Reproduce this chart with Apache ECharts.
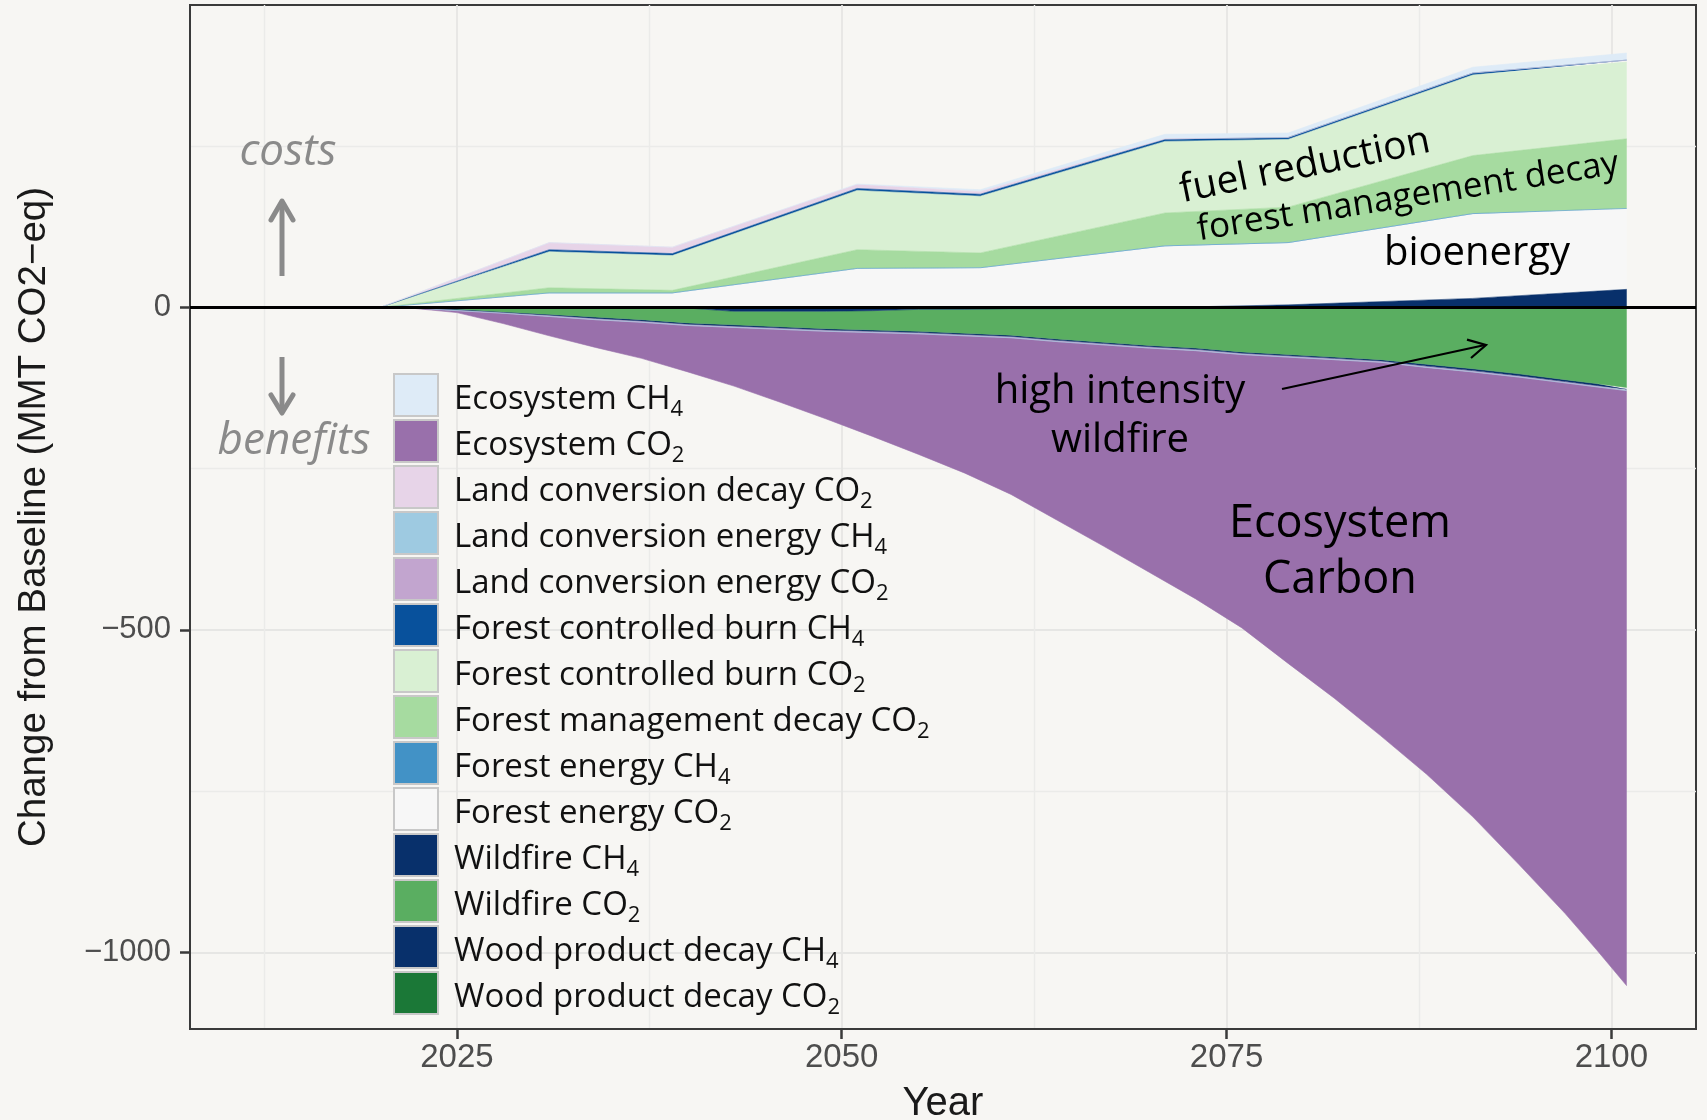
<!DOCTYPE html>
<html>
<head>
<meta charset="utf-8">
<title>Change from Baseline</title>
<script src="https://cdn.jsdelivr.net/npm/echarts@6/dist/echarts.min.js"></script>
<style>
  html, body { margin: 0; padding: 0; background: #f7f6f3; }
  #chart { width: 1707px; height: 1120px; }
</style>
</head>
<body>
<div id="chart"></div>
<script>
// ---- axes ----
const xTicks = [2025, 2050, 2075, 2100];
const xMinor = [2012.5, 2037.5, 2062.5, 2087.5];
const yTicks = [-1000, -500, 0];
const yMinor = [-750, -250, 250];

// ---- legend order ----
const legendNames = [
  'Ecosystem CH4', 'Ecosystem CO2', 'Land conversion decay CO2',
  'Land conversion energy CH4', 'Land conversion energy CO2',
  'Forest controlled burn CH4', 'Forest controlled burn CO2',
  'Forest management decay CO2', 'Forest energy CH4', 'Forest energy CO2',
  'Wildfire CH4', 'Wildfire CO2', 'Wood product decay CH4', 'Wood product decay CO2'
];

// ---- costs (positive components, MMT CO2-eq) ----
const posYears = [2020, 2031, 2039, 2051, 2059, 2071, 2079, 2091, 2101];
const woodDecayCH4Pos    = [0, 0, 0, 0, 0, 0, 4, 14, 28];
const forestEnergyCO2    = [0, 22, 22, 60, 61, 95, 96, 131, 125];
const forestEnergyCH4    = [0, 0.5, 0.5, 0.5, 0.5, 0.5, 0.5, 0.5, 0.5];
const forestMgmtDecayCO2 = [0, 8, 4, 29, 23, 51, 55, 90, 108];
const controlledBurnCO2  = [0, 56, 54, 92, 88, 111, 105, 125, 119];
const controlledBurnCH4  = [0, 3, 3, 3, 3, 3, 3, 3, 3];
const landDecayCO2       = [0, 11, 10, 6, 4, 1, 0, 0, 0];
const ecosystemCH4       = [0, 0, 0, 1, 3, 7, 7, 9, 11];

// ---- benefits (negative components, MMT CO2-eq) ----
const negYears = [2020, 2022, 2025, 2028, 2031, 2034, 2037, 2040, 2043, 2046, 2049, 2052, 2055, 2058,
                  2061, 2064, 2067, 2070, 2073, 2076, 2079, 2082, 2085, 2088, 2091, 2094, 2097, 2099, 2101];
const woodDecayCO2    = [0, 0, 0, 0, 0, 0, 0, 0, 0, 0, 0, 0, 0, 0, 0, 0, 0, 0, 0, 0, 0, 0, 0, 0, 0, 0, 0, 0, 0];
const woodDecayCH4Neg = [0, 0, 0, 0, 0, 0, 0, -1, -6, -6, -6, -5, -3, -3, -2, -2, -1, 0, 0, 0, 0, 0, 0, 0, 0, 0, 0, 0, 0];
const wildfireCO2     = [0, -1, -3, -7, -11, -15, -19, -23, -21, -24, -27, -30, -34, -37, -41, -47, -53, -59,
                         -63, -69, -73, -77, -81, -88, -95, -103, -112, -118, -124];
const wildfireCH4     = [0, 0, -1, -1, -1, -2, -2, -2, -2, -2, -2, -2, -2, -2, -2, -2, -2, -2, -2, -2, -2, -2, -2,
                         -3, -3, -3, -3, -3, -3];
const landEnergyCO2   = [0, 0, -1, -1, -2, -2, -2, -2, -2, -2, -2, -2, -2, -2, -2, -2, -2, -2, -2, -2, -2, -2, -2,
                         -2, -2, -2, -2, -2, -2];
const landEnergyCH4   = [0, 0, 0, 0, 0, 0, 0, 0, 0, 0, 0, 0, 0, 0, 0, 0, 0, 0, 0, 0, 0, 0, 0, 0, 0, 0, 0, 0, 0];
const ecosystemCO2    = [0, 0, -3, -16, -30, -43, -56, -72, -91, -113, -136, -161, -187, -213, -243, -277, -312,
                         -348, -385, -424, -475, -525, -579, -631, -690, -756, -823, -872, -923];

// ---- palette ----
const colors = {
  'Ecosystem CH4': '#deebf7',
  'Ecosystem CO2': '#9970ab',
  'Land conversion decay CO2': '#e7d4e8',
  'Land conversion energy CH4': '#9ecae1',
  'Land conversion energy CO2': '#c2a5cf',
  'Forest controlled burn CH4': '#08519c',
  'Forest controlled burn CO2': '#d9f0d3',
  'Forest management decay CO2': '#a6dba0',
  'Forest energy CH4': '#4292c6',
  'Forest energy CO2': '#f7f7f7',
  'Wildfire CH4': '#08306b',
  'Wildfire CO2': '#5aae61',
  'Wood product decay CH4': '#08306b',
  'Wood product decay CO2': '#1b7837'
};

const UI_FONT = '"Open Sans", "Noto Sans", sans-serif';
const AXIS_FONT = '"Liberation Sans", Arial, sans-serif';

// value first, year second: the stacked dimension is the first numeric one
function area(name, stack, years, values) {
  const c = colors[name];
  return {
    name: name,
    type: 'line',
    stack: stack,
    stackStrategy: 'samesign',
    xAxisIndex: 0,
    yAxisIndex: 0,
    data: years.map((y, i) => [values[i], y]),
    encode: { x: 1, y: 0 },
    symbol: 'none',
    showSymbol: false,
    lineStyle: { width: 0.6, color: c },
    itemStyle: { color: c },
    areaStyle: { color: c, opacity: 1 },
    emphasis: { disabled: true },
    silent: true
  };
}

// stacks are built outward from zero: first series sits next to the axis
const series = [
  area('Wood product decay CH4', 'pos', posYears, woodDecayCH4Pos),
  area('Forest energy CO2', 'pos', posYears, forestEnergyCO2),
  area('Forest energy CH4', 'pos', posYears, forestEnergyCH4),
  area('Forest management decay CO2', 'pos', posYears, forestMgmtDecayCO2),
  area('Forest controlled burn CO2', 'pos', posYears, controlledBurnCO2),
  area('Forest controlled burn CH4', 'pos', posYears, controlledBurnCH4),
  area('Land conversion decay CO2', 'pos', posYears, landDecayCO2),
  area('Ecosystem CH4', 'pos', posYears, ecosystemCH4),

  area('Wood product decay CO2', 'neg', negYears, woodDecayCO2),
  area('Wood product decay CH4', 'neg', negYears, woodDecayCH4Neg),
  area('Wildfire CO2', 'neg', negYears, wildfireCO2),
  area('Wildfire CH4', 'neg', negYears, wildfireCH4),
  area('Land conversion energy CO2', 'neg', negYears, landEnergyCO2),
  area('Land conversion energy CH4', 'neg', negYears, landEnergyCH4),
  area('Ecosystem CO2', 'neg', negYears, ecosystemCO2),

  // zero reference line
  {
    type: 'line',
    xAxisIndex: 0,
    yAxisIndex: 0,
    data: [],
    z: 10,
    silent: true,
    markLine: {
      silent: true,
      symbol: ['none', 'none'],
      label: { show: false },
      lineStyle: { color: '#000000', width: 3.2, type: 'solid' },
      data: [{ yAxis: 0 }]
    }
  }
];

const minus = v => (v < 0 ? '\u2212' + Math.abs(v) : String(v));
const gridLine = { color: '#e6e6e4', width: 1.8 };
const xRange = { min: 2007.66, max: 2105.5 };
const yRange = { min: -1119, max: 469 };

const centered = { align: 'center', verticalAlign: 'middle', textAlign: 'center', textVerticalAlign: 'middle' };

const option = {
  backgroundColor: '#f7f6f3',
  animation: false,
  grid: {
    left: 190, right: 11, top: 5, bottom: 91,
    outerBoundsMode: 'none',
    containLabel: false,
    show: true, borderColor: '#3a3a3a', borderWidth: 2, backgroundColor: 'transparent'
  },
  xAxis: [
    {
      type: 'value', ...xRange, position: 'bottom',
      name: 'Year', nameLocation: 'middle', nameGap: 55,
      nameTextStyle: { fontFamily: AXIS_FONT, fontSize: 40, color: '#1a1a1a' },
      axisLine: { show: true, onZero: false, lineStyle: { color: '#3a3a3a', width: 2 } },
      axisTick: { show: true, length: 10, customValues: xTicks, lineStyle: { color: '#3a3a3a', width: 2.5 } },
      axisLabel: { customValues: xTicks, margin: 12, fontFamily: AXIS_FONT, fontSize: 33, color: '#4d4d4d',
                   formatter: v => String(v) },
      splitLine: { show: true, lineStyle: gridLine }
    },
    {
      type: 'value', ...xRange, position: 'top',
      axisLine: { show: false },
      axisTick: { show: false, customValues: xMinor },
      axisLabel: { show: false, customValues: xMinor },
      splitLine: { show: true, lineStyle: { color: '#ebebe9', width: 1.4 } }
    }
  ],
  yAxis: [
    {
      type: 'value', ...yRange, position: 'left',
      name: 'Change from Baseline (MMT CO2\u2212eq)', nameLocation: 'middle', nameGap: 136,
      nameTextStyle: { fontFamily: AXIS_FONT, fontSize: 38.5, color: '#1a1a1a' },
      axisLine: { show: true, onZero: false, lineStyle: { color: '#3a3a3a', width: 2 } },
      axisTick: { show: true, length: 10, customValues: yTicks, lineStyle: { color: '#3a3a3a', width: 2.5 } },
      axisLabel: { customValues: yTicks, margin: 19, fontFamily: AXIS_FONT, fontSize: 31, color: '#4d4d4d',
                   formatter: minus },
      splitLine: { show: true, lineStyle: gridLine }
    },
    {
      type: 'value', ...yRange, position: 'right',
      axisLine: { show: false },
      axisTick: { show: false, customValues: yMinor },
      axisLabel: { show: false, customValues: yMinor },
      splitLine: { show: true, lineStyle: { color: '#ebebe9', width: 1.4 } }
    }
  ],
  legend: {
    data: legendNames,
    orient: 'vertical',
    left: 393,
    top: 373,
    padding: 0,
    icon: 'rect',
    itemWidth: 44,
    itemHeight: 42,
    itemGap: -2,
    selectedMode: false,
    itemStyle: { borderColor: '#c8c8c8', borderWidth: 2 },
    formatter: name => {
      const m = name.match(/^(.*)(CH|CO)(\d)$/);
      return m ? '{t|' + m[1] + m[2] + '}{s|' + m[3] + '}' : '{t|' + name + '}';
    },
    textStyle: {
      padding: [0, 0, 0, 11],
      fontFamily: UI_FONT,
      fontSize: 33,
      color: '#111111',
      rich: {
        // main words sit slightly low in the row, the digit drops below as a subscript
        t: { fontFamily: UI_FONT, fontSize: 33, lineHeight: 40, height: 30, verticalAlign: 'bottom', color: '#111111' },
        s: { fontFamily: UI_FONT, fontSize: 22, lineHeight: 10, height: 10, verticalAlign: 'bottom', color: '#111111' }
      }
    }
  },
  graphic: [
    { type: 'text', x: 288, y: 152, z: 20, silent: true,
      style: Object.assign({ text: 'costs', fontFamily: UI_FONT, fontSize: 44, fontStyle: 'italic', fill: '#8a8a8a' }, centered) },
    { type: 'line', z: 20, silent: true, shape: { x1: 282, y1: 276, x2: 282, y2: 203 },
      style: { stroke: '#8a8a8a', lineWidth: 5 } },
    { type: 'polyline', z: 20, silent: true, shape: { points: [[271, 220], [282, 201], [293, 220]] },
      style: { stroke: '#8a8a8a', lineWidth: 5, fill: null, lineCap: 'round', lineJoin: 'round' } },
    { type: 'line', z: 20, silent: true, shape: { x1: 282, y1: 357, x2: 282, y2: 411 },
      style: { stroke: '#8a8a8a', lineWidth: 5 } },
    { type: 'polyline', z: 20, silent: true, shape: { points: [[271, 395], [282, 413], [293, 395]] },
      style: { stroke: '#8a8a8a', lineWidth: 5, fill: null, lineCap: 'round', lineJoin: 'round' } },
    { type: 'text', x: 294, y: 441, z: 20, silent: true,
      style: Object.assign({ text: 'benefits', fontFamily: UI_FONT, fontSize: 44, fontStyle: 'italic', fill: '#8a8a8a' }, centered) },

    { type: 'text', x: 1305, y: 166, rotation: 11.5 * Math.PI / 180, z: 20, silent: true,
      style: Object.assign({ text: 'fuel reduction', fontFamily: UI_FONT, fontSize: 39, fill: '#000' }, centered) },
    { type: 'text', x: 1408, y: 197, rotation: 9 * Math.PI / 180, z: 20, silent: true,
      style: Object.assign({ text: 'forest management decay', fontFamily: UI_FONT, fontSize: 35, fill: '#000' }, centered) },
    { type: 'text', x: 1477, y: 254, z: 20, silent: true,
      style: Object.assign({ text: 'bioenergy', fontFamily: UI_FONT, fontSize: 40, fill: '#000' }, centered) },
    { type: 'text', x: 1120, y: 392, z: 20, silent: true,
      style: Object.assign({ text: 'high intensity', fontFamily: UI_FONT, fontSize: 40, fill: '#000' }, centered) },
    { type: 'text', x: 1120, y: 441, z: 20, silent: true,
      style: Object.assign({ text: 'wildfire', fontFamily: UI_FONT, fontSize: 40, fill: '#000' }, centered) },
    { type: 'line', z: 20, silent: true, shape: { x1: 1282, y1: 389, x2: 1485, y2: 345 },
      style: { stroke: '#000', lineWidth: 2.2 } },
    { type: 'polyline', z: 20, silent: true, shape: { points: [[1467, 339.6], [1486, 345], [1471, 358]] },
      style: { stroke: '#000', lineWidth: 2.2, fill: null } },
    { type: 'text', x: 1340, y: 524, z: 20, silent: true,
      style: Object.assign({ text: 'Ecosystem', fontFamily: UI_FONT, fontSize: 45, fill: '#000' }, centered) },
    { type: 'text', x: 1340, y: 580, z: 20, silent: true,
      style: Object.assign({ text: 'Carbon', fontFamily: UI_FONT, fontSize: 45, fill: '#000' }, centered) }
  ],
  series: series
};

const chart = echarts.init(document.getElementById('chart'), null, { renderer: 'canvas' });
chart.setOption(option);
</script>
</body>
</html>
